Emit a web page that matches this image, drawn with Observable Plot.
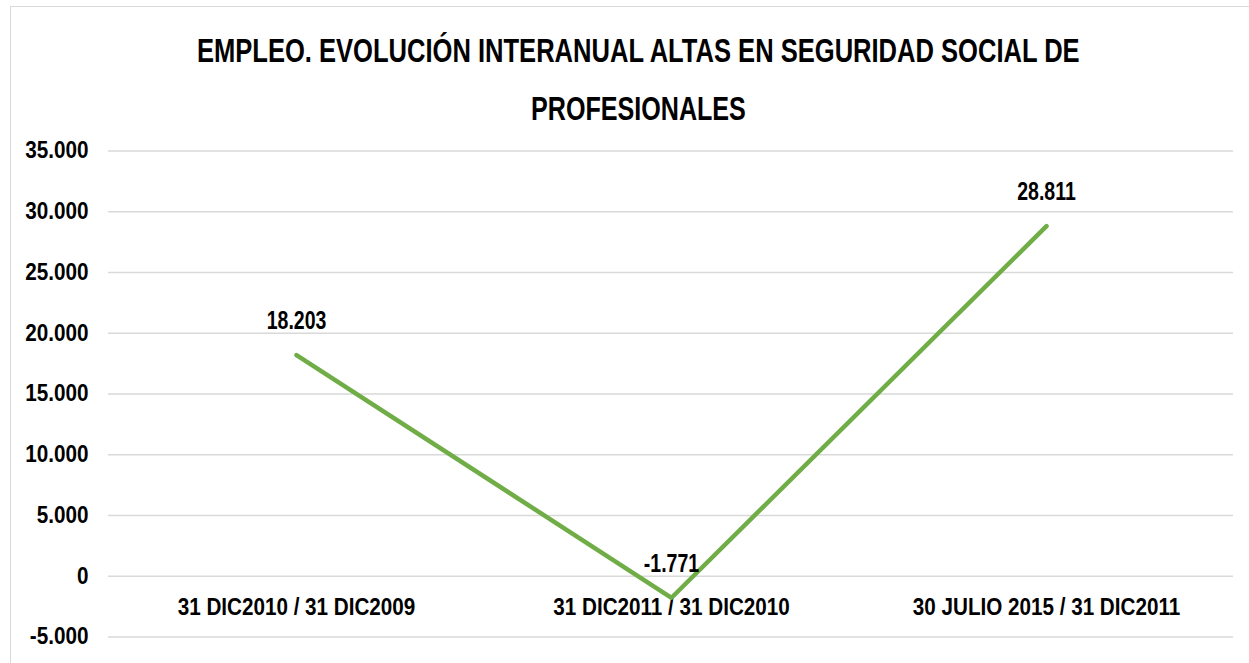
<!DOCTYPE html>
<html>
<head>
<meta charset="utf-8">
<script src="https://cdn.jsdelivr.net/npm/d3@7"></script>
<script src="https://cdn.jsdelivr.net/npm/@observablehq/plot@0.6"></script>
<style>
  html, body { margin: 0; padding: 0; background: #fff; }
  #wrap { position: relative; width: 1249px; height: 663px; overflow: hidden; }
  #border { position: absolute; left: 10px; top: 6px; width: 1260px; height: 700px; border: 1.5px solid #d9d9d9; box-sizing: border-box; }
  #title { position: absolute; left: 0; top: 0; }
  #chart { position: absolute; left: 0; top: 0; }
  .nf { font-family: "Liberation Sans", Arial, sans-serif; font-weight: bold; }
</style>
</head>
<body>
<div id="wrap">
  <div id="border"></div>
  <div id="chart"></div>
  <svg id="title" width="1249" height="140" class="nf">
    <g transform="translate(197,62)"><text id="t1" font-size="34" fill="#000">EMPLEO. EVOLUCIÓN INTERANUAL ALTAS EN SEGURIDAD SOCIAL DE</text></g>
    <g transform="translate(531,120)"><text id="t2" font-size="34" fill="#000">PROFESIONALES</text></g>
  </svg>
</div>
<script>
const categories = ["31 DIC2010 / 31 DIC2009", "31 DIC2011 / 31 DIC2010", "30 JULIO 2015 / 31 DIC2011"];
const values = [18203, -1771, 28811];
const yTicks = [-5000, 0, 5000, 10000, 15000, 20000, 25000, 30000, 35000];

const fmt = d => d3.format(",")(d).replace(/,/g, ".").replace(/\u2212/g, "-");
const data = categories.map((c, i) => ({cat: c, value: values[i]}));

// condense title lines to the reference widths with a horizontal scale
[["t1", 883], ["t2", 215]].forEach(([id, target]) => {
  const t = document.getElementById(id);
  const w = t.getComputedTextLength();
  if (w > 0) t.setAttribute("transform", `scale(${(target / w).toFixed(4)},1)`);
});

const chart = Plot.plot({
  width: 1249,
  height: 663,
  marginLeft: 108,
  marginRight: 16,
  marginTop: 150.5,
  marginBottom: 26.5,
  style: {fontFamily: '"Liberation Sans", Arial, sans-serif', fontWeight: "bold", color: "#000", background: "transparent"},
  x: {type: "point", domain: categories, padding: 0.5},
  y: {domain: [-5000, 35000]},
  marks: [
    Plot.gridY(yTicks, {stroke: "#d9d9d9", strokeOpacity: 1, strokeWidth: 1.5}),
    Plot.axisY(yTicks, {tickSize: 0, tickPadding: 20, tickFormat: fmt, fontSize: 23, label: null, className: "ytick"}),
    Plot.axisX({tickSize: 0, tickPadding: 0, lineAnchor: "middle", dy: -29.5, fontSize: 24, label: null, className: "xtick"}),
    Plot.line(data, {x: "cat", y: "value", stroke: "#70AD47", strokeWidth: 4.5, strokeLinecap: "round", strokeLinejoin: "round"}),
    Plot.text(data, {x: "cat", y: "value", text: d => fmt(d.value), lineAnchor: "bottom", dy: -26, fontSize: 25, fill: "#000", className: "dlabel"})
  ]
});
document.getElementById("chart").appendChild(chart);

// emulate a narrow typeface by condensing each label horizontally
function condense(selector, factor) {
  chart.querySelectorAll(selector + " text").forEach(t => {
    const w = t.getComputedTextLength();
    if (w > 0) {
      t.setAttribute("textLength", (w * factor).toFixed(1));
      t.setAttribute("lengthAdjust", "spacingAndGlyphs");
    }
  });
}
condense(".ytick", 0.9);
condense(".xtick", 0.86);
condense(".dlabel", 0.78);
</script>
</body>
</html>
